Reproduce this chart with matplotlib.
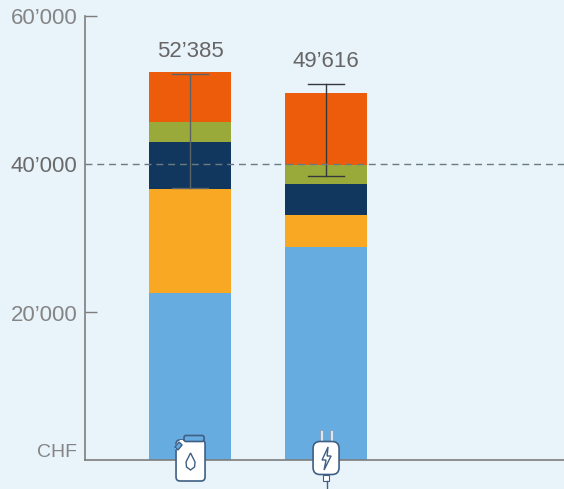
from matplotlib import pyplot as plt
from matplotlib.patches import FancyBboxPatch, Polygon, Rectangle

labels = ["fuel", "electric"]
blue = [22570, 28780]
orange = [13980, 4330]
navy = [6350, 4190]
green = [2780, 2560]
red = [6705, 9756]
err_low = [36760, 38310]
err_high = [52160, 50810]
totals = ["52’385", "49’616"]
yticks = [20000, 40000, 60000]
ytick_labels = ["20’000", "40’000", "60’000"]

colors = ["#66ace0", "#f9a823", "#12375e", "#9aaa3a", "#ec5c0b"]
whisker_colors = ["#5c6468", "#35393c"]
bg = "#e8f3fa"
grey = "#7d7d7d"
plt.rcParams['font.family'] = ['Liberation Sans', 'DejaVu Sans']

fig = plt.figure(figsize=(5.641, 4.891), dpi=100, facecolor=bg)
ax = fig.add_axes([85/564, (489-460)/489, (564-85)/564, 444/489], facecolor=bg)
ax.set_xlim(-105/136, 1+238/136)
ax.set_ylim(0, 60000)

x = range(len(labels))
bottom = [0, 0]
for vals, c in zip([blue, orange, navy, green, red], colors):
    ax.bar(x, vals, width=82/136, bottom=bottom, color=c, linewidth=0, zorder=2)
    bottom = [b+v for b, v in zip(bottom, vals)]

# whiskers
for i in x:
    wc = whisker_colors[i]
    ax.plot([i, i], [err_low[i], err_high[i]], color=wc, lw=1, zorder=3)
    for v in (err_low[i], err_high[i]):
        ax.plot([i-0.135, i+0.135], [v, v], color=wc, lw=1, zorder=3)
    ax.text(i, err_high[i]+3100, totals[i], ha="center", va="center", fontsize=16, color="#666666")

ax.axhline(40000, color="#6b7b80", lw=1, ls=(0, (5, 3.5)), zorder=4)

for s in ["top", "right"]:
    ax.spines[s].set_visible(False)
for s in ["left", "bottom"]:
    ax.spines[s].set_color(grey)
    ax.spines[s].set_linewidth(1.2)
ax.set_xticks([])
ax.set_yticks([20000, 60000])
ax.set_yticklabels([])
ax.tick_params(axis="y", direction="in", length=8.5, width=1, color=grey)

for v, t in zip(yticks, ytick_labels):
    c = "#6a6a6a" if v == 40000 else "#858585"
    ax.text(-0.83, v-400, t, ha="right", va="center", fontsize=16, color=c, clip_on=False)
ax.text(-0.83, 1000, "CHF", ha="right", va="center", fontsize=14, color="#858585")

# icons in pixel coords
ov = fig.add_axes([0, 0, 1, 1], facecolor="none")
ov.set_xlim(0, 564)
ov.set_ylim(489, 0)
ov.axis("off")
edge = "#3f5f85"

# jerrycan
ov.add_patch(FancyBboxPatch((176, 440), 29, 41, boxstyle="round,pad=0,rounding_size=4",
                            fc="white", ec=edge, lw=1.2, zorder=5))
ov.add_patch(Polygon([[175.5, 445], [175, 449.5], [183, 445], [183, 440], [180, 440]],
                     fc="white", ec="none", zorder=6))
ov.add_patch(Polygon([[175, 447], [179, 442], [182, 445], [178, 450]], fc="#66ace0", ec=edge, lw=1, zorder=7))
ov.add_patch(FancyBboxPatch((184, 435.5), 20, 6, boxstyle="round,pad=0,rounding_size=2",
                            fc="#66ace0", ec=edge, lw=1.2, zorder=6))
ov.add_patch(Polygon([[190.5, 453], [186, 462], [186.5, 467], [190.5, 470], [194.5, 467], [195, 462]],
                     fc="white", ec=edge, lw=1, zorder=7))

# plug
ov.add_patch(Rectangle((320, 430), 3, 11, fc="#dbe6ef", ec="#8aa0b8", lw=0.6, zorder=5))
ov.add_patch(Rectangle((330, 430), 3, 11, fc="#dbe6ef", ec="#8aa0b8", lw=0.6, zorder=5))
ov.add_patch(Rectangle((323, 475), 6, 6, fc="white", ec=edge, lw=0.8, zorder=5))
ov.plot([326.5, 326.5], [481, 489], color=edge, lw=1, zorder=5)
ov.add_patch(FancyBboxPatch((313, 441.5), 26, 33, boxstyle="round,pad=0,rounding_size=7",
                            fc="white", ec=edge, lw=1.2, zorder=6))
ov.add_patch(Polygon([[328, 447], [322, 460], [326, 460], [324, 470], [331, 456], [327, 456]],
                     fc="white", ec=edge, lw=1, zorder=7))

fig.savefig("out.png", dpi=100, facecolor=bg)
